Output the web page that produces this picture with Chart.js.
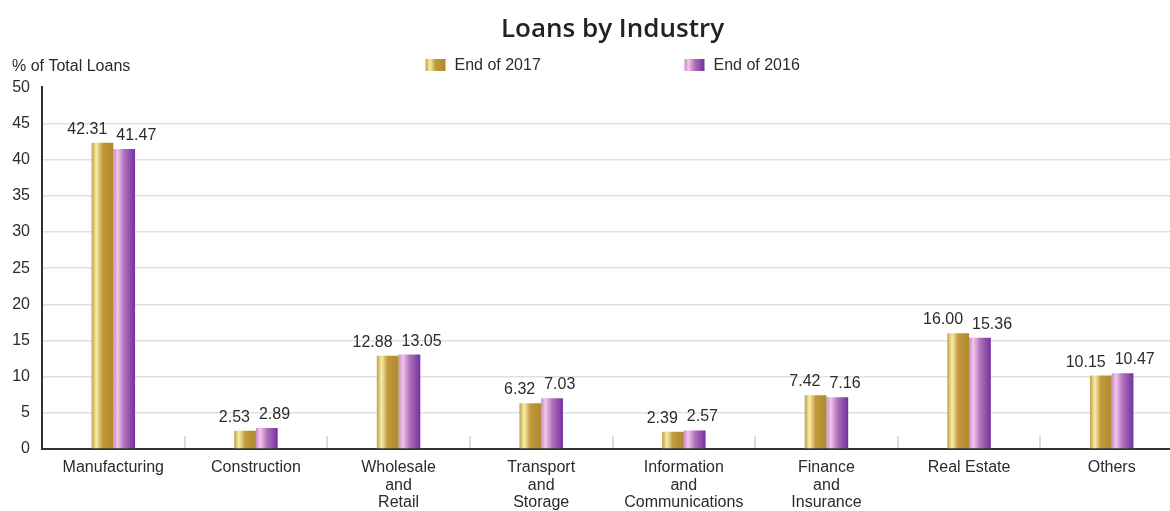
<!DOCTYPE html>
<html>
<head>
<meta charset="utf-8">
<script src="https://cdn.jsdelivr.net/npm/chart.js@4/dist/chart.umd.min.js"></script>
<style>
  html, body { margin: 0; padding: 0; background: #ffffff; overflow: hidden; }
  #clip { position: relative; width: 1170px; height: 511px; overflow: hidden; }
  #wrap { position: absolute; left: 0; top: 0; width: 1183px; height: 511px; }
</style>
</head>
<body>
<div id="clip"><div id="wrap"><canvas id="c"></canvas></div></div>
<script>
// ---------- data ----------
const categories = [
  ["Manufacturing"],
  ["Construction"],
  ["Wholesale", "and", "Retail"],
  ["Transport", "and", "Storage"],
  ["Information", "and", "Communications"],
  ["Finance", "and", "Insurance"],
  ["Real Estate"],
  ["Others"]
];
const seriesNames = ["End of 2017", "End of 2016"];
const values2017 = [42.31, 2.53, 12.88, 6.32, 2.39, 7.42, 16.00, 10.15];
const values2016 = [41.47, 2.89, 13.05, 7.03, 2.57, 7.16, 15.36, 10.47];
const yTickMin = 0;
const yTickMax = 50;
const yTickStep = 5;
const chartTitle = "Loans by Industry";
const yAxisTitle = "% of Total Loans";

// ---------- styling ----------
const TEXT = "#2b2b2b";
const FONT_FAMILY = "'Liberation Sans', Arial, sans-serif";
const CAT_PCT = 0.305;
const goldStops = [[0, "#c3a044"], [0.22, "#f8eda8"], [0.5, "#c09a3c"], [1, "#b0882e"]];
const purpleStops = [[0, "#c88ccb"], [0.2, "#f3c6ea"], [0.5, "#b273ba"], [1, "#73309f"]];
const stopSets = [goldStops, purpleStops];

function makeGradient(ctx, x0, x1, stops) {
  const g = ctx.createLinearGradient(x0, 0, x1, 0);
  stops.forEach(s => g.addColorStop(s[0], s[1]));
  return g;
}

function barFill(context) {
  const stops = stopSets[context.datasetIndex];
  const chart = context.chart;
  const xs = chart.scales.x;
  if (!xs || context.dataIndex === undefined || !isFinite(xs.width) || xs.width <= 0) {
    return stops[2][1];
  }
  const center = xs.getPixelForValue(context.dataIndex);
  const catW = xs.width / categories.length;
  const barW = catW * CAT_PCT / 2;
  const left = context.datasetIndex === 0 ? center - barW : center;
  return makeGradient(chart.ctx, left, left + barW, stops);
}

// ---------- plugins ----------
const decorPlugin = {
  id: "decor",
  afterDraw(chart) {
    const ctx = chart.ctx;
    const area = chart.chartArea;
    const xs = chart.scales.x;
    ctx.save();
    // short separators between categories
    ctx.strokeStyle = "#dcdcdc";
    ctx.lineWidth = 2;
    for (let i = 1; i < categories.length; i++) {
      const x = Math.round((xs.getPixelForValue(i - 1) + xs.getPixelForValue(i)) / 2);
      ctx.beginPath();
      ctx.moveTo(x, area.bottom - 13);
      ctx.lineTo(x, area.bottom - 1);
      ctx.stroke();
    }
    // value labels
    ctx.fillStyle = TEXT;
    ctx.font = "16px " + FONT_FAMILY;
    ctx.textBaseline = "alphabetic";
    chart.data.datasets.forEach((ds, di) => {
      const meta = chart.getDatasetMeta(di);
      meta.data.forEach((bar, i) => {
        const txt = ds.data[i].toFixed(2);
        if (di === 0) {
          ctx.textAlign = "right";
          ctx.fillText(txt, bar.x + bar.width / 2 - 6, bar.y - 9);
        } else {
          ctx.textAlign = "left";
          ctx.fillText(txt, bar.x - bar.width / 2 + 3, bar.y - 9);
        }
      });
    });
    // y axis title (horizontal, top-left)
    ctx.textAlign = "left";
    ctx.textBaseline = "middle";
    ctx.font = "16px " + FONT_FAMILY;
    ctx.fillText(yAxisTitle, 12, 67);
    // legend
    const mid = (area.left + area.right) / 2;
    const starts = [mid - 187, mid + 72];
    chart.data.datasets.forEach((ds, di) => {
      const bx = starts[di];
      const by = 59;
      ctx.fillStyle = makeGradient(ctx, bx, bx + 20, stopSets[di]);
      ctx.fillRect(bx, by, 20, 12);
      ctx.fillStyle = TEXT;
      ctx.textAlign = "left";
      ctx.textBaseline = "middle";
      ctx.fillText(ds.label, bx + 29, by + 7);
    });
    ctx.restore();
  }
};

// ---------- chart ----------
new Chart(document.getElementById("c"), {
  type: "bar",
  data: {
    labels: categories,
    datasets: [
      { label: seriesNames[0], data: values2017, backgroundColor: barFill, borderWidth: 0 },
      { label: seriesNames[1], data: values2016, backgroundColor: barFill, borderWidth: 0 }
    ]
  },
  options: {
    responsive: true,
    maintainAspectRatio: false,
    animation: false,
    events: [],
    datasets: { bar: { categoryPercentage: CAT_PCT, barPercentage: 1 } },
    layout: { padding: 0 },
    plugins: {
      legend: { display: false },
      tooltip: { enabled: false },
      title: {
        display: true,
        text: chartTitle,
        fullSize: false,
        color: "#222",
        font: { family: "'Open Sans', sans-serif", size: 26, weight: "600", lineHeight: 1.2 },
        padding: { top: 14, bottom: 42 }
      }
    },
    scales: {
      x: {
        grid: { display: false, drawTicks: false },
        border: { display: true, color: "#333", width: 2 },
        ticks: {
          color: TEXT,
          padding: 10,
          maxRotation: 0,
          autoSkip: false,
          font: { family: FONT_FAMILY, size: 16, lineHeight: 1.1 }
        },
        afterFit(scale) { scale.height = 62; }
      },
      y: {
        min: yTickMin,
        max: yTickMax,
        grid: {
          drawTicks: false,
          lineWidth: 1.5,
          color: (c) => (c.tick && c.tick.value === yTickMax) ? "rgba(0,0,0,0)" : "#e0e0e0"
        },
        border: { display: true, color: "#333", width: 2 },
        ticks: {
          stepSize: yTickStep,
          color: TEXT,
          padding: 12,
          font: { family: FONT_FAMILY, size: 16 }
        },
        afterFit(scale) { scale.width = 42; }
      }
    }
  },
  plugins: [decorPlugin]
});
</script>
</body>
</html>
